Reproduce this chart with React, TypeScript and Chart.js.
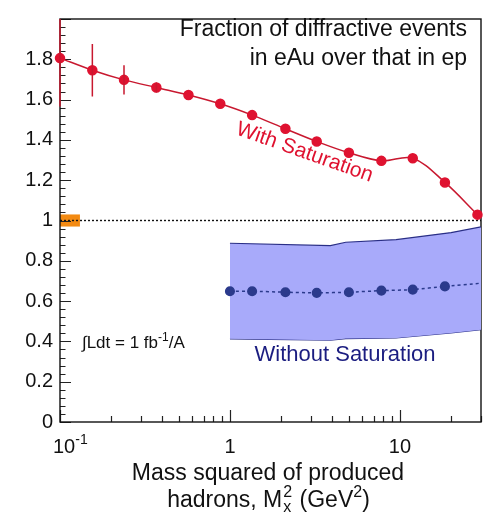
import React, { useEffect, useRef } from "react";
import { Chart, registerables } from "chart.js";

Chart.register(...registerables);

// M_X^2 values (GeV^2) of the eAu/ep ratio points with saturation
const massSq = [0.1, 0.155, 0.238, 0.369, 0.57, 0.877, 1.35, 2.12, 3.24, 5.01, 7.78, 11.9, 18.4, 28.6];
const withSaturation = [1.806, 1.746, 1.698, 1.66, 1.623, 1.579, 1.523, 1.455, 1.392, 1.336, 1.296, 1.309, 1.189, 1.029];
const withSaturationErr = [0.24, 0.13, 0.073, 0.025, 0, 0, 0, 0, 0, 0, 0, 0, 0, 0];

// ratio without saturation (central curve, last entry is the curve end only)
const massSqNoSat = [1.0, 1.35, 2.12, 3.24, 5.01, 7.78, 11.9, 18.4, 30];
const withoutSaturation = [0.649, 0.649, 0.644, 0.641, 0.644, 0.652, 0.657, 0.673, 0.689];
const noSatMarker = [true, true, true, true, true, true, true, true, false];

// uncertainty band without saturation
const bandMassSq = [1.0, 3.9, 4.8, 9.5, 20, 30];
const bandUpper = [0.887, 0.875, 0.892, 0.905, 0.94, 0.968];
const bandLower = [0.413, 0.406, 0.414, 0.417, 0.442, 0.458];

// unity reference line
const refMassSq = [0.1, 30];
const refRatio = [1, 1];

// normalisation uncertainty box at unity
const normBoxMassSq = [0.1, 0.131];
const normBoxRatio = [0.97, 1.03];

// axis ranges and labelled decades
const xRange = [0.1, 30];
const yRange = [0, 2];
const xLabelValues = [0.1, 1, 10];
const xLabelBase = ["10", "1", "10"];
const xLabelSup = ["-1", "", ""];

const FONT = '"Liberation Sans", Arial, Helvetica, sans-serif';
const font = (s: number) => `${s}px ${FONT}`;
const RED = "#df1230";
const RED_LINE = "#c8182f";
const NAVY = "#2b3a8c";
const BAND_EDGE = "#2a2f86";
const BAND_FILL = "rgba(168,170,250,1)";
const TEXT_NAVY = "#1b1d80";

const framePlugin = {
  id: "frame",
  beforeDatasetsDraw(chart: any) {
    const { ctx, chartArea: a, scales } = chart;
    const x = scales.x;
    const y = scales.y;
    ctx.save();
    // normalisation box
    const bx0 = x.getPixelForValue(normBoxMassSq[0]);
    const bx1 = x.getPixelForValue(normBoxMassSq[1]);
    const by0 = y.getPixelForValue(normBoxRatio[1]);
    const by1 = y.getPixelForValue(normBoxRatio[0]);
    ctx.fillStyle = "#f38a12";
    ctx.fillRect(bx0, by0, bx1 - bx0, by1 - by0);

    ctx.strokeStyle = "#222";
    ctx.lineWidth = 1.2;
    ctx.beginPath();
    // y ticks: majors every 0.2, minors every 0.04
    for (let i = 0; i <= 50; i++) {
      const v = i * 0.04;
      const py = Math.round(y.getPixelForValue(v)) + 0.5;
      const len = i % 5 === 0 ? 11 : 5.5;
      ctx.moveTo(a.left, py);
      ctx.lineTo(a.left + len, py);
    }
    // x ticks: decades long, 2..9 short
    for (let d = -1; d <= 1; d++) {
      for (let m = 1; m <= 9; m++) {
        const v = m * Math.pow(10, d);
        if (v > xRange[1] + 1e-9) break;
        const px = Math.round(x.getPixelForValue(v)) + 0.5;
        const len = m === 1 ? 12 : 6;
        ctx.moveTo(px, a.bottom);
        ctx.lineTo(px, a.bottom - len);
      }
    }
    ctx.stroke();
    ctx.lineWidth = 1.4;
    ctx.strokeStyle = "#111";
    ctx.strokeRect(a.left, a.top, a.right - a.left, a.bottom - a.top);
    ctx.restore();
  },
};

const errorBarPlugin = {
  id: "errorBars",
  afterDatasetsDraw(chart: any) {
    const { ctx, chartArea: a, scales } = chart;
    const x = scales.x;
    const y = scales.y;
    ctx.save();
    ctx.beginPath();
    ctx.rect(a.left - 2, a.top, a.right - a.left + 4, a.bottom - a.top);
    ctx.clip();
    ctx.strokeStyle = RED_LINE;
    ctx.lineWidth = 1.5;
    ctx.beginPath();
    massSq.forEach((m, i) => {
      const e = withSaturationErr[i];
      if (!e) return;
      const px = x.getPixelForValue(m);
      ctx.moveTo(px, y.getPixelForValue(withSaturation[i] + e));
      ctx.lineTo(px, y.getPixelForValue(withSaturation[i] - e));
    });
    ctx.stroke();
    ctx.restore();
  },
};

const textPlugin = {
  id: "texts",
  afterDraw(chart: any) {
    const { ctx, chartArea: a, scales } = chart;
    const x = scales.x;
    ctx.save();
    ctx.textBaseline = "alphabetic";

    // x tick labels at decades
    ctx.fillStyle = "#111";
    xLabelValues.forEach((v, i) => {
      const px = x.getPixelForValue(v);
      const base = xLabelBase[i];
      const sup = xLabelSup[i];
      ctx.font = font(20);
      if (sup) {
        const left = px - 7;
        ctx.textAlign = "left";
        ctx.fillText(base, left, 453);
        const w = ctx.measureText(base).width;
        ctx.font = font(14);
        ctx.fillText(sup, left + w, 444);
      } else {
        ctx.textAlign = "center";
        ctx.fillText(base, px, 453);
      }
    });

    // x axis title, two lines
    const cx = 268;
    ctx.textAlign = "center";
    ctx.font = font(23);
    ctx.fillText("Mass squared of produced", cx, 480);
    const parts: [string, number, number][] = [];
    ctx.font = font(23);
    const p1 = "hadrons, M";
    const p3 = " (GeV";
    const p5 = ")";
    const w1 = ctx.measureText(p1).width;
    const w3 = ctx.measureText(p3).width;
    const w5 = ctx.measureText(p5).width;
    ctx.font = font(16);
    const w2 = Math.max(ctx.measureText("2").width, ctx.measureText("x").width) + 1;
    const w4 = ctx.measureText("2").width;
    const total = w1 + w2 + w3 + w4 + w5;
    let sx = cx - total / 2;
    const by = 507;
    ctx.textAlign = "left";
    ctx.font = font(23);
    ctx.fillText(p1, sx, by);
    sx += w1 + 1;
    ctx.font = font(16);
    ctx.fillText("2", sx, by - 10);
    ctx.fillText("x", sx, by + 5);
    sx += w2;
    ctx.font = font(23);
    ctx.fillText(p3, sx, by);
    sx += w3;
    ctx.font = font(16);
    ctx.fillText("2", sx, by - 10);
    sx += w4;
    ctx.font = font(23);
    ctx.fillText(p5, sx, by);
    void parts;

    // caption in upper right
    ctx.textAlign = "right";
    ctx.font = font(23);
    ctx.fillStyle = "#111";
    ctx.fillText("Fraction of diffractive events", a.right - 14, 36);
    ctx.fillText("in eAu over that in ep", a.right - 14, 65);

    // luminosity note
    ctx.textAlign = "left";
    ctx.font = font(17);
    let lx = 82;
    const ly = 348;
    const l1 = "\u222BLdt = 1 fb";
    ctx.fillText(l1, lx, ly);
    lx += ctx.measureText(l1).width;
    ctx.font = font(12);
    ctx.fillText("-1", lx, ly - 7);
    lx += ctx.measureText("-1").width;
    ctx.font = font(17);
    ctx.fillText("/A", lx, ly);

    // curve labels
    ctx.fillStyle = TEXT_NAVY;
    ctx.textAlign = "center";
    ctx.font = font(22);
    ctx.fillText("Without Saturation", 345, 361);

    ctx.save();
    ctx.translate(235, 134);
    ctx.rotate((19.5 * Math.PI) / 180);
    ctx.fillStyle = RED;
    ctx.textAlign = "left";
    ctx.font = font(21);
    ctx.fillText("With Saturation", 0, 0);
    ctx.restore();

    ctx.restore();
  },
};

export default function App() {
  const canvasRef = useRef<HTMLCanvasElement | null>(null);

  useEffect(() => {
    if (!canvasRef.current) return;
    const pts = (xs: number[], ys: number[]) => xs.map((v, i) => ({ x: v, y: ys[i] }));
    const chart = new Chart(canvasRef.current, {
      type: "line",
      data: {
        datasets: [
          {
            label: "With Saturation",
            data: pts(massSq, withSaturation),
            borderColor: RED_LINE,
            borderWidth: 1.5,
            backgroundColor: RED,
            pointBackgroundColor: RED,
            pointBorderColor: RED,
            pointRadius: 4.5,
            tension: 0.35,
            clip: false as any,
            order: 0,
          },
          {
            label: "Without Saturation",
            data: pts(massSqNoSat, withoutSaturation),
            borderColor: NAVY,
            borderWidth: 1.5,
            borderDash: [3, 3],
            pointBackgroundColor: NAVY,
            pointBorderColor: NAVY,
            pointRadius: noSatMarker.map((m) => (m ? 4.3 : 0)),
            tension: 0.2,
            clip: false as any,
            order: 1,
          },
          {
            label: "unity",
            data: pts(refMassSq, refRatio),
            borderColor: "#111",
            borderWidth: 1.4,
            borderDash: [2, 2],
            pointRadius: 0,
            order: 2,
          },
          {
            label: "band upper",
            data: pts(bandMassSq, bandUpper),
            borderColor: BAND_EDGE,
            borderWidth: 1.2,
            backgroundColor: BAND_FILL,
            pointRadius: 0,
            fill: "+1",
            order: 3,
          },
          {
            label: "band lower",
            data: pts(bandMassSq, bandLower),
            borderColor: BAND_EDGE,
            borderWidth: 1.2,
            pointRadius: 0,
            fill: false,
            order: 4,
          },
        ],
      },
      options: {
        animation: false,
        responsive: false,
        devicePixelRatio: 1,
        layout: { padding: { top: 10, right: 5, left: 0, bottom: 0 } },
        plugins: {
          legend: { display: false },
          tooltip: { enabled: false },
        },
        scales: {
          x: {
            type: "logarithmic",
            min: xRange[0],
            max: xRange[1],
            grid: { display: false },
            border: { display: false },
            ticks: { display: false },
            afterFit: (s: any) => {
              s.height = 90;
            },
          },
          y: {
            type: "linear",
            min: yRange[0],
            max: yRange[1],
            grid: { display: false, drawTicks: false },
            border: { display: false },
            ticks: {
              stepSize: 0.2,
              padding: 7,
              color: "#111",
              font: { family: FONT, size: 20 },
              callback: (v: any) => {
                const n = Number(v);
                if (n >= 1.99) return "";
                return String(Number(n.toFixed(1)));
              },
            },
            afterFit: (s: any) => {
              s.width = 60;
            },
          },
        },
      },
      plugins: [framePlugin, errorBarPlugin, textPlugin],
    });
    return () => chart.destroy();
  }, []);

  return (
    <div style={{ position: "fixed", left: 0, top: 0, width: 487, height: 512, background: "#fff" }}>
      <canvas ref={canvasRef} width={487} height={512} />
    </div>
  );
}
